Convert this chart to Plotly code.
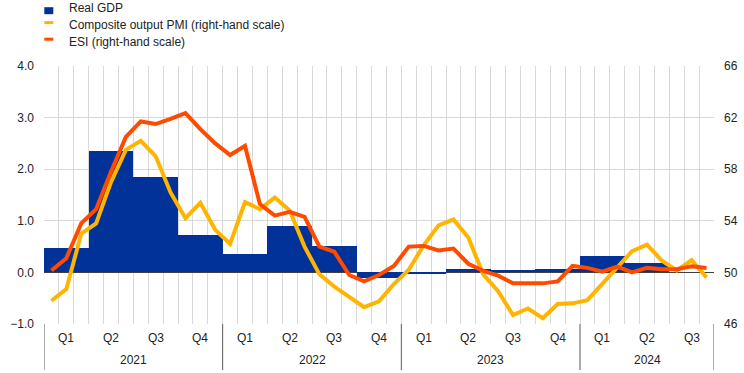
import plotly.graph_objects as go

# ---------------- data ----------------
years = ["2021", "2022", "2023", "2024"]
quarters = ["Q1", "Q2", "Q3", "Q4"]
n_months = 45  # Jan 2021 .. Sep 2024

# Real GDP, quarter-on-quarter % (left scale); Q3 2024 not yet available
gdp = [0.48, 2.35, 1.84, 0.72, 0.36, 0.89, 0.51, -0.11, -0.03, 0.07, 0.04, 0.06, 0.32, 0.18, None]

# Composite output PMI (right-hand scale), monthly
pmi = [47.8, 48.7, 53.0, 53.8, 57.0, 59.5, 60.2, 59.0, 56.2, 54.2, 55.4, 53.3,
       52.2, 55.45, 54.9, 55.8, 54.8, 52.0, 49.85, 48.9, 48.1, 47.3, 47.75, 49.1,
       50.2, 52.1, 53.65, 54.1, 52.7, 49.85, 48.55, 46.7, 47.2, 46.45, 47.55, 47.6,
       47.85, 49.1, 50.3, 51.65, 52.15, 50.9, 50.15, 50.95, 49.6]

# ESI (right-hand scale), monthly
esi = [50.15, 51.1, 53.8, 54.9, 57.8, 60.5, 61.7, 61.5, 61.9, 62.35, 61.1, 60.0,
       59.1, 59.8, 55.3, 54.4, 54.7, 54.3, 52.0, 51.6, 49.8, 49.3, 49.8, 50.5,
       52.0, 52.05, 51.7, 51.85, 50.67, 50.12, 49.75, 49.15, 49.15, 49.15, 49.3, 50.5,
       50.35, 50.05, 50.45, 50.0, 50.35, 50.25, 50.25, 50.47, 50.34]

# ---------------- styles ----------------
C_GDP = "#003299"
C_PMI = "#FFB400"
C_ESI = "#FF4B00"
FONT = "Liberation Sans, Arial, sans-serif"
TXT = "#222222"

W, H = 744, 373
ML, MR, MT, MB = 44, 30, 66, 49
PW, PH = W - ML - MR, H - MT - MB


def py(p):  # pixel y -> paper y
    return (H - MB - p) / PH


def px(p):  # pixel x -> paper x
    return (p - ML) / PW


month_x = [i + 0.5 for i in range(len(pmi))]
quarter_x = [3 * q + 1.5 for q in range(len(gdp))]

fig = go.Figure()
fig.add_trace(go.Bar(x=quarter_x, y=gdp, width=3, marker=dict(color=C_GDP, line=dict(width=0)),
                     name="Real GDP", showlegend=False))
fig.add_trace(go.Scatter(x=month_x, y=pmi, mode="lines", yaxis="y2",
                         line=dict(color=C_PMI, width=4), name="Composite output PMI (right-hand scale)",
                         showlegend=False))
fig.add_trace(go.Scatter(x=month_x, y=esi, mode="lines", yaxis="y2",
                         line=dict(color=C_ESI, width=4), name="ESI (right-hand scale)",
                         showlegend=False))

annotations = []
shapes = []

# quarter and year labels, year separators
n_q = len(gdp)
for q in range(n_q):
    annotations.append(dict(x=3 * q + 1.5, y=py(338), xref="x", yref="paper",
                            text=quarters[q % 4], showarrow=False,
                            font=dict(family=FONT, size=12, color=TXT),
                            xanchor="center", yanchor="middle"))
for k, yr in enumerate(years):
    start = 12 * k
    end = min(12 * (k + 1), n_months)
    annotations.append(dict(x=(start + end) / 2, y=py(360), xref="x", yref="paper",
                            text=yr, showarrow=False,
                            font=dict(family=FONT, size=12, color=TXT),
                            xanchor="center", yanchor="middle"))
    shapes.append(dict(type="line", xref="x", yref="paper", x0=start, x1=start,
                       y0=0, y1=py(370), line=dict(color="#595959", width=1)))
shapes.append(dict(type="line", xref="x", yref="paper", x0=n_months, x1=n_months,
                   y0=0, y1=py(370), line=dict(color="#595959", width=1)))

# custom legend
legend_items = [("Real GDP", C_GDP, "square", 10.6, 8.4),
                ("Composite output PMI (right-hand scale)", C_PMI, "line", 22.6, 25.0),
                ("ESI (right-hand scale)", C_ESI, "line", 39.2, 41.6)]
for label, col, kind, my, ty in legend_items:
    if kind == "square":
        shapes.append(dict(type="rect", xref="paper", yref="paper",
                           x0=px(44.3), x1=px(53.3), y0=py(14.2), y1=py(7.2),
                           fillcolor=col, line=dict(width=0)))
    else:
        shapes.append(dict(type="line", xref="paper", yref="paper",
                           x0=px(44.3), x1=px(53.3), y0=py(my), y1=py(my),
                           line=dict(color=col, width=3)))
    annotations.append(dict(x=px(66.5), y=py(ty), xref="paper", yref="paper",
                            text=label, showarrow=False, xanchor="left", yanchor="middle",
                            font=dict(family=FONT, size=12, color=TXT)))

fig.update_layout(
    width=W, height=H,
    autosize=False,
    margin=dict(l=ML, r=MR, t=MT, b=MB, pad=0, autoexpand=False),
    paper_bgcolor="white", plot_bgcolor="white",
    font=dict(family=FONT, size=12, color=TXT),
    showlegend=False,
    bargap=0,
    xaxis=dict(range=[0, n_months], tick0=0, dtick=1, showticklabels=False,
               showgrid=True, gridcolor="#d9d9d9", gridwidth=1, zeroline=False,
               showline=False, ticks="", automargin=False),
    yaxis=dict(range=[-1, 4], tick0=0, dtick=1, tickformat=".1f", showgrid=True,
               gridcolor="#d9d9d9", gridwidth=1, zeroline=True, zerolinecolor="#404040",
               zerolinewidth=1, showline=False, ticks="", ticklabelstandoff=9,
               automargin=False, tickfont=dict(family=FONT, size=12, color=TXT)),
    yaxis2=dict(range=[46, 66], tick0=46, dtick=4, overlaying="y", side="right", showgrid=False,
                zeroline=False, showline=False, ticks="", ticklabelstandoff=9,
                automargin=False, tickfont=dict(family=FONT, size=12, color=TXT)),
    annotations=annotations,
    shapes=shapes,
)

fig.write_html(
    "out.html",
    config={"displayModeBar": False, "responsive": False},
    post_script="document.body.style.margin='0px';document.body.style.padding='0px';"
                "document.documentElement.style.overflow='hidden';",
)
